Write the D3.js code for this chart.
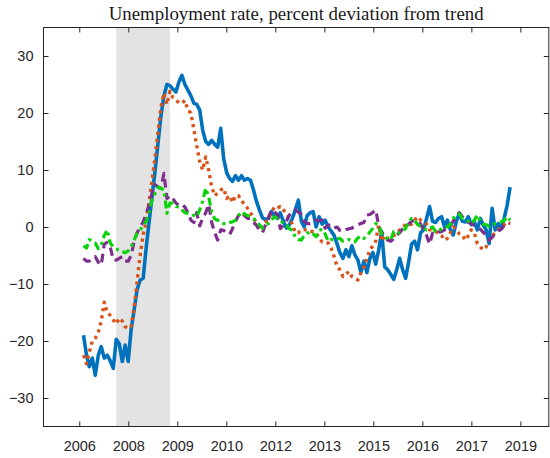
<!DOCTYPE html>
<html>
<head>
<meta charset="utf-8">
<script src="https://cdn.jsdelivr.net/npm/d3@7"></script>
<style>
  body { margin: 0; background: #fff; }
  .tick text { font-family: "Liberation Sans", Arial, sans-serif; }
</style>
</head>
<body>
<div id="chart"></div>
<script>
// chart size (window is 550x458)
const width = 550;
const height = 458;
const plotLeft = 43.5, plotRight = 548.8, plotTop = 27.5, plotBottom = 426.5;

// ---- data (monthly, Jan 2007 .. Dec 2018) ----
const firstMonth = new Date(2007, 0, 1);
const lastMonth = new Date(2018, 11, 1);

const blueSeries = [
  -19, -22.5, -24.5, -23, -26, -22.5, -21, -23, -22.5, -23.5, -24.8, -19.7,
  -20.5, -23.6, -20.7, -23.6, -18, -14.5, -11, -9.3, -9, -3.7, 1, 5.4,
  10, 15, 19.5, 23, 25, 24.8, 24.2, 23.7, 25.5, 26.6, 25, 24,
  23, 21.7, 21.5, 20.5, 17, 15, 14.5, 15.2, 14.5, 14, 17.3, 12,
  9.5, 8.5, 8, 9, 8.2, 9, 8.2, 8.5, 8.2, 6.5, 4.5, 3,
  1.6, 1.3, 1.5, 2.7, 2, 1.5, 2.5, 1, -0.2, 0.4, 1.5, 3,
  4.7, 1, 0, 2, 2.5, 2.7, 0, 1.8, 0.5, 1.2, 0, -0.7,
  -1.5, -3, -4.5, -5.5, -4, -5.2, -3.3, -4.9, -5.8, -8, -6, -8,
  -5.5, -4.5, -6.5, -4, -0.8, -7, -7.5, -8.3, -9.2, -7.5, -5.5, -7.5,
  -9, -6, -3, -2.5, -4, -1, -0.5, 1.5, 3.6, 1, 0.8, 1.5,
  1.8, 0, 1.2, -0.5, -1.4, 1, 2.4, 1, 0.9, 1.8, 0.4, 0.9,
  -0.5, 1.5, 0.4, -0.5, -2.9, 3.3, -0.5, 0.6, -0.2, 1.5, 3.8, 7
];

const orangeSeries = [
  -22.5, -24, -22, -20, -19.5, -18.5, -16.5, -13.2, -15, -15.5, -16.3, -17,
  -16, -16.5, -17.5, -17.8, -17.5, -14, -9.5, -5, -1.3, 0.8, 4.5, 8.4,
  12.3, 17, 21, 23.5, 21.5, 23.8, 22.7, 22.3, 21.8, 21.7, 22.2, 20.5,
  20, 17, 14.3, 11.5, 10, 12.3, 10, 7, 5.5, 6, 6.5, 6.8,
  5, 5.5, 4.3, 5.5, 5.5, 4.6, 4, 3.3, 2.5, 1.5, 0.8, -0.5,
  0, 0.8, 1.5, 2.5, 3.5, 3.3, 3.6, 3, 2.5, 1.5, 0.5, -1,
  -1, -0.5, -0.5, -0.5, -0.8, -0.8, -1, -2, -2.6, -2.6, -2.8, -3.7,
  -5.2, -7, -7.5, -8.7, -8.3, -7.8, -8.7, -9, -9.3, -8, -7, -5.5,
  -4, -3.3, -2.5, 0.3, -2.5, -1.5, -2, -1.8, -1.5, -1.2, -0.5, -0.2,
  0.5, 0.4, 0.5, 1.2, 1.8, 1.2, 0.9, 0.5, -0.5, -0.5, -0.8, -1,
  -1.5, -2.3, -2, -1, 0, -0.5, -1.2, -1.4, -2.3, -1.5, -0.5, -1,
  -2.9, -3.5, -4, -3.5, -2.3, -1.5, -1.1, -0.5, 0, 0.4, 0.9, 0.6
];

const purpleSeries = [
  -5.5, -6, -6, -5.5, -5.2, -6.2, -6.7, -3, -2.7, -3.5, -5.8, -5.8,
  -5.5, -5.2, -6, -6, -5, -2.5, -1, 0, 0.9, 2.2, 4, 6,
  7.4, 7, 6.8, 9.4, 5, 5.5, 5, 4.2, 3.8, 4, 3.5, 2.5,
  1.2, 0.8, 2.5, 0.2, 1.6, 2.5, 4, 0.8, -1, -2.3, -0.5, -0.6,
  -1, -1.3, -0.3, 1, 2, 2.6, 2, 1.5, 1.5, 0.8, 0.3, -0.6,
  -1, 0.4, 1.5, 3, 2.7, 2.2, -0.3, 0.3, 1, 2.1, 2.5, 3,
  2.6, 2.2, 1, 0.6, 0.6, 0.8, 1.2, 1.1, 1.2, -0.2, 0.3, 0.4,
  -0.2, 0, -0.6, -0.8, -0.5, -0.3, -0.2, 0.2, 0.4, 0.6, 0.8, 2.1,
  2.2, 2.6, 3, 0.2, -1, -1.5, -2.3, -2.5, -2, -1.4, -1, -0.3,
  0, 0.5, 1, 1.2, 0.9, 0.5, -0.5, -1.5, -3, -1.1, -1.3, -0.9,
  -0.8, -0.5, -0.2, 0.3, 1, 2.1, 2.5, 1.8, 1.2, 0.8, 0.6, 0.3,
  0, -0.4, -0.9, -1.5, -2.3, -1.8, -1.2, -0.7, -0.4, 0.2, 0.5, 0.6
];

const greenSeries = [
  -3.3, -3.7, -2.2, -2.5, -2.8, -3.8, -3.2, -1.5, -0.5, -2.8, -3.5, -3.8,
  -4.2, -4.3, -4.5, -4.2, -3.5, -2.3, -1.1, -0.5, 0.3, 1, 2.6, 4.8,
  5.9, 7, 6.8, 6.5, 2.4, 4.2, 4.2, 3.6, 3.5, 3, 2.5, 2.4,
  2.3, 2, 1.8, 3, 4.5, 6.8, 5.3, 2.7, 1.4, 1.2, 1, 0.6,
  0.6, 0.8, 0.9, 1.2, 2, 2.7, 2.3, 2, 1.8, 1.5, 0.8, 0.4,
  -0.2, 0.2, 0.6, 1.2, 1.8, 1.5, 1.2, 0.6, 0.4, -0.3, -0.6, -1.8,
  -2.2, -2.3, -1.5, -1.1, -0.8, -1.2, -1.7, -0.6, -0.4, -1.2, -2.5, -2.2,
  -2.3, -2.1, -2, -2.5, -2.4, -2.2, -2.4, -2.6, -1.9, -1.6, -2, -1.5,
  -0.9, -0.2, 0.6, 0.3, -1.2, -1.8, -2, -2.3, -0.8, -1.1, -1, -0.8,
  -0.2, 0.9, 1.5, 1.2, 0.4, 0.1, -0.2, -0.5, -0.2, 0, -0.8, -0.7,
  -0.3, 0, 0, 0.5, 1.5, 2.2, 2.3, 1.5, 1.2, 1, 0.6, 1.2,
  2.1, 1, 0.5, 0.4, 0.1, 0.3, 0.6, 0.7, 0.9, 1.1, 1.8, 1.2
];

// recession shading (NBER dates)
const recessionStart = new Date(2007, 11, 1);
const recessionEnd = new Date(2009, 5, 1);

// x ticks and their labels
const tickDates = [
  new Date(2006, 10, 19), new Date(2008, 3, 2), new Date(2009, 7, 15),
  new Date(2010, 11, 28), new Date(2012, 4, 11), new Date(2013, 8, 23),
  new Date(2015, 1, 5), new Date(2016, 5, 19), new Date(2017, 10, 1),
  new Date(2019, 2, 16)
];
const tickLabels = ["2006", "2008", "2009", "2010", "2012", "2013", "2015", "2016", "2017", "2019"];
const yTicks = [-30, -20, -10, 0, 10, 20, 30];

const titleText = "Unemployment rate, percent deviation from trend";

// ---- scales ----
const months = d3.timeMonth.range(firstMonth, d3.timeMonth.offset(lastMonth, 1));
const xScale = d3.scaleTime()
  .domain([new Date(2005, 10, 19), new Date(2019, 11, 31)])
  .range([plotLeft, plotRight]);
const yScale = d3.scaleLinear().domain([-35, 35]).range([plotBottom, plotTop]);

const svg = d3.select("#chart").append("svg")
  .attr("width", width).attr("height", height)
  .style("display", "block");

// grey recession band
svg.append("rect")
  .attr("x", xScale(recessionStart))
  .attr("y", plotTop)
  .attr("width", xScale(recessionEnd) - xScale(recessionStart))
  .attr("height", plotBottom - plotTop)
  .attr("fill", "#e3e3e3");

// lines
const seriesList = [
  {values: blueSeries, color: "#0072BD", width: 3.6, dash: null},
  {values: orangeSeries, color: "#D95319", width: 3.4, dash: "3.2,4"},
  {values: purpleSeries, color: "#7E2F8E", width: 3.2, dash: "8.5,5.5"},
  {values: greenSeries, color: "#0ad30a", width: 3.2, dash: "8,4,3,4"}
];

const line = d3.line()
  .x((d, i) => xScale(months[i]))
  .y(d => yScale(d));

const clip = svg.append("clipPath").attr("id", "plot-clip")
  .append("rect")
  .attr("x", plotLeft).attr("y", plotTop)
  .attr("width", plotRight - plotLeft).attr("height", plotBottom - plotTop);

seriesList.forEach(s => {
  svg.append("path")
    .datum(s.values)
    .attr("clip-path", "url(#plot-clip)")
    .attr("fill", "none")
    .attr("stroke", s.color)
    .attr("stroke-width", s.width)
    .attr("stroke-linejoin", "round")
    .attr("stroke-dasharray", s.dash)
    .attr("d", line);
});

// axes (MATLAB style: ticks inward, box on)
const axisColor = "#262626";
const tickLen = 5;

const xAxisBottom = d3.axisBottom(xScale)
  .tickValues(tickDates)
  .tickFormat((d, i) => tickLabels[i])
  .tickSizeInner(-tickLen).tickSizeOuter(0).tickPadding(14);
const gx = svg.append("g")
  .attr("transform", `translate(0,${plotBottom})`)
  .call(xAxisBottom);

const xAxisTop = d3.axisTop(xScale)
  .tickValues(tickDates).tickFormat("")
  .tickSizeInner(-tickLen).tickSizeOuter(0);
const gxt = svg.append("g")
  .attr("transform", `translate(0,${plotTop})`)
  .call(xAxisTop);

const yAxisLeft = d3.axisLeft(yScale)
  .tickValues(yTicks)
  .tickSizeInner(-tickLen).tickSizeOuter(0).tickPadding(10);
const gy = svg.append("g")
  .attr("transform", `translate(${plotLeft},0)`)
  .call(yAxisLeft);

const yAxisRight = d3.axisRight(yScale)
  .tickValues(yTicks).tickFormat("")
  .tickSizeInner(-tickLen).tickSizeOuter(0);
const gyr = svg.append("g")
  .attr("transform", `translate(${plotRight},0)`)
  .call(yAxisRight);

[gx, gxt, gy, gyr].forEach(g => {
  g.select(".domain").remove();
  g.selectAll(".tick line").attr("stroke", axisColor);
  g.selectAll(".tick text")
    .attr("fill", axisColor)
    .style("font-size", "14.5px");
});

// frame
svg.append("rect")
  .attr("x", plotLeft).attr("y", plotTop)
  .attr("width", plotRight - plotLeft).attr("height", plotBottom - plotTop)
  .attr("fill", "none")
  .attr("stroke", axisColor)
  .attr("stroke-width", 1);

// title
const title = svg.append("text")
  .attr("x", (plotLeft + plotRight) / 2)
  .attr("y", 20)
  .attr("text-anchor", "middle")
  .attr("fill", "#1a1a1a")
  .style("font-family", "'Liberation Serif', 'DejaVu Serif', serif")
  .style("font-size", "16px")
  .text(titleText);
// stretch the font size so the title spans about the same width as in the original
const tw = title.node().getComputedTextLength();
title.style("font-size", (16 * 375 / tw).toFixed(2) + "px");
</script>
</body>
</html>
